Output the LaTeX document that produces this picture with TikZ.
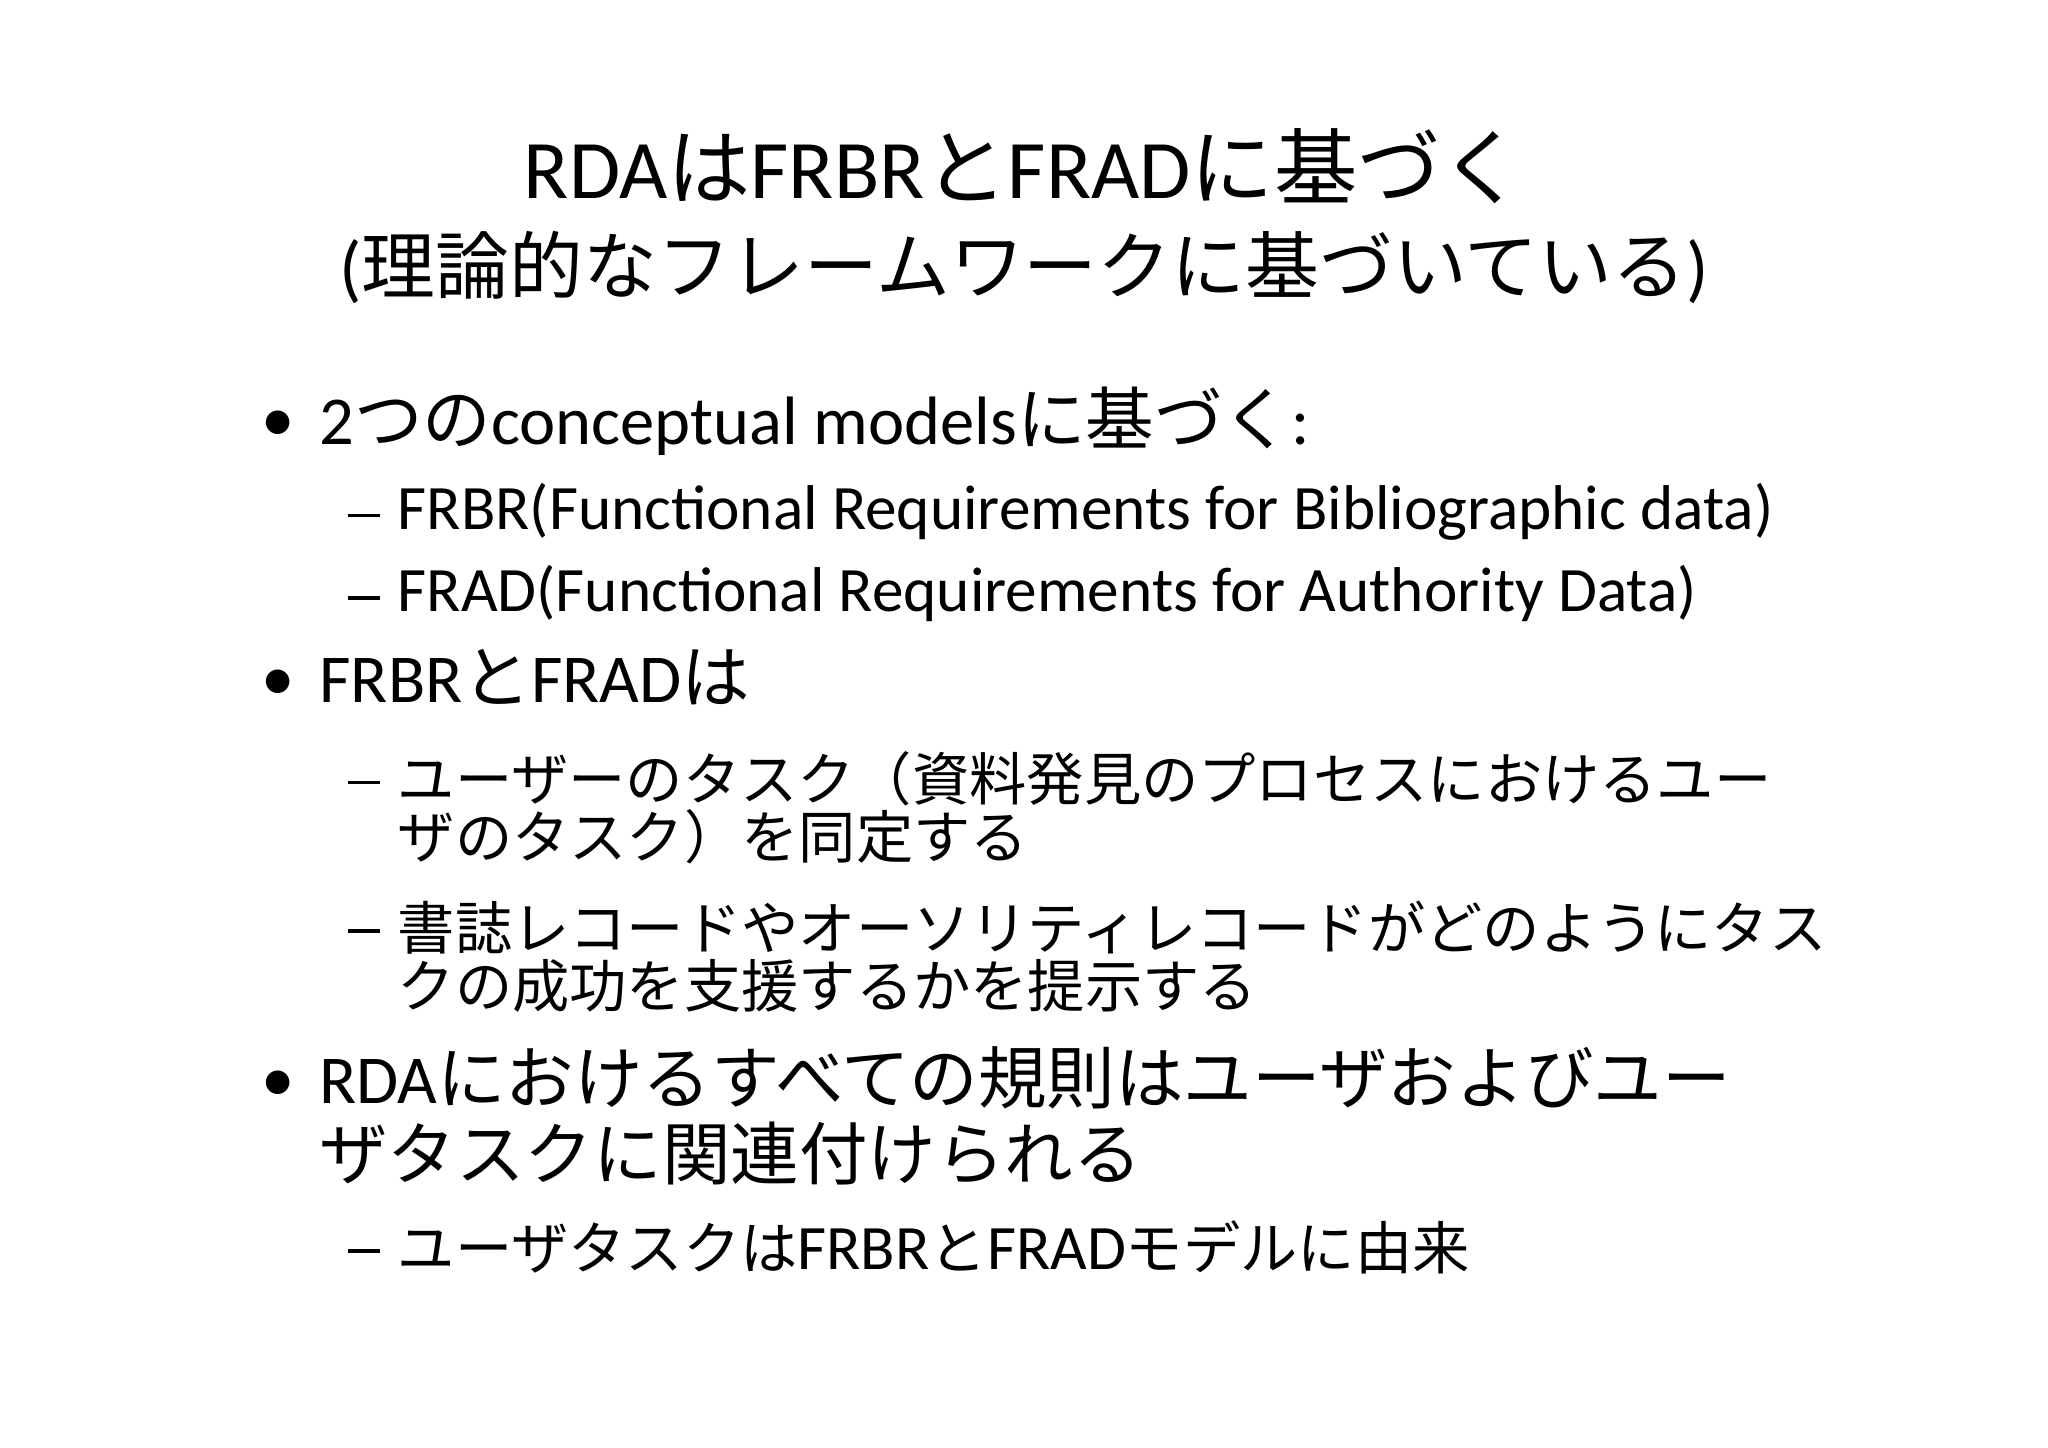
\documentclass[tikz,border=0pt]{standalone}
\usepackage{fontspec}
\setmainfont{Carlito}
\newfontfamily\jp{Noto Sans CJK JP}
\newcommand{\lt}[1]{{\fontsize{18}{18}\selectfont #1}}
\begin{document}
\begin{tikzpicture}[x=0.01306cm,y=-0.01306cm,
  tA/.style={anchor=base,font=\fontsize{23.7}{28}\selectfont},
  tB/.style={anchor=base,font=\fontsize{21}{26}\selectfont},
  lvA/.style={anchor=base west,font=\fontsize{19.5}{21.5}\selectfont},
  lvB/.style={anchor=base west,font=\fontsize{16.3}{16.3}\selectfont},
  dsh/.style={anchor=base west,inner sep=0pt},
  bul/.style={anchor=base west,font=\fontsize{19}{19}\selectfont,inner sep=0pt}]
\useasboundingbox[fill=white] (0,0) rectangle (1568,1108);
\node[tA] (t1) at (784,152) {RDA{\jp は}FRBR{\jp と}FRAD{\jp に基づく}};
\node[tB] (t2) at (784,225) {({\jp 理論的なフレームワークに基づいている})};
\node[bul] (b1) at (200,338) {•};
\node[lvA] (i1) at (235,340) {2{\jp つの}conceptual models{\jp に基づく}:};
\node[dsh] (d1) at (266,396) {\rule{9pt}{0.9pt}};
\node[lvB] (s1) at (295,405) {\lt{FRBR(Functional Requirements for Bibliographic data)}};
\node[dsh] (d2) at (266,459) {\rule{9pt}{0.9pt}};
\node[lvB] (s2) at (295,468) {\lt{FRAD(Functional Requirements for Authority Data)}};
\node[bul] (b2) at (200,536) {•};
\node[lvA] (i2) at (235,538) {FRBR{\jp と}FRAD{\jp は}};
\node[dsh] (d3) at (266,600) {\rule{9pt}{0.9pt}};
\node[lvB] (s3) at (295,613) {\jp ユーザーのタスク（資料発見のプロセスにおけるユー};
\node[lvB] (s3b) at (295,657) {\jp ザのタスク）を同定する};
\node[dsh] (d4) at (266,714) {\rule{9pt}{0.9pt}};
\node[lvB] (s4) at (295,727) {\jp 書誌レコードやオーソリティレコードがどのようにタス};
\node[lvB] (s4b) at (295,771) {\jp クの成功を支援するかを提示する};
\node[bul] (b3) at (200,843) {•};
\node[lvA] (i3) at (235,845) {RDA{\jp におけるすべての規則はユーザおよびユー}};
\node[lvA] (i3b) at (235,903) {\jp ザタスクに関連付けられる};
\node[dsh] (d5) at (266,959) {\rule{9pt}{0.9pt}};
\node[lvB] (s5) at (295,972) {{\jp ユーザタスクは}\lt{FRBR}{\jp と}\lt{FRAD}{\jp モデルに由来}};
\end{tikzpicture}
\end{document}
